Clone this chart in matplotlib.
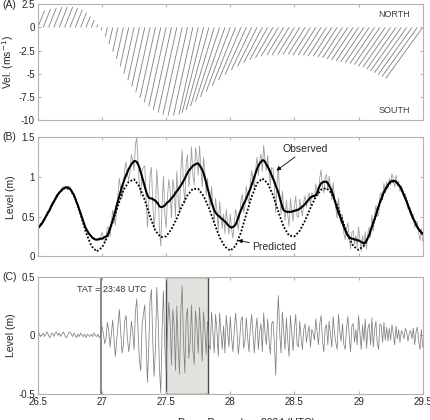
import numpy as np
import matplotlib
matplotlib.use('Agg')
import matplotlib.pyplot as plt
from matplotlib.ticker import FormatStrFormatter

plt.rcParams['font.family'] = ['Liberation Sans', 'DejaVu Sans']
plt.rcParams['axes.unicode_minus'] = False

# ---- data ----
# hourly times, days of December 2004 (UTC)
t_hour = 26.5 + np.arange(73) / 24.0
# 15-minute times for the high-frequency records
t_15 = 26.5 + np.arange(289) / 96.0

# (A) current components (m/s), feather sticks
vel_north = [1.8, 2.0, 2.1, 2.2, 2.2, 2.2, 2.1, 1.9, 1.6, 1.2, 0.8, 0.3,
             -0.3, -1.0, -1.8, -2.6, -3.4, -4.2, -5.0, -5.7, -6.4, -7.0, -7.6, -8.1,
             -8.5, -8.9, -9.2, -9.4, -9.5, -9.5, -9.4, -9.2, -8.9, -8.5, -8.0, -7.5,
             -6.9, -6.3, -5.7, -5.1, -4.6, -4.2, -3.8, -3.5, -3.3, -3.1, -3.0, -3.0,
             -2.9, -2.9, -2.9, -3.0, -3.0, -3.0, -3.1, -3.1, -3.2, -3.3, -3.4, -3.5,
             -3.6, -3.7, -3.8, -3.9, -4.0, -4.2, -4.3, -4.5, -4.7, -4.9, -5.1, -5.3, -5.5]
vel_east = [0.72, 0.80, 0.84, 0.88, 0.88, 0.88, 0.84, 0.76, 0.64, 0.48, 0.32, 0.12,
            -0.07, -0.22, -0.40, -0.57, -0.75, -0.92, -1.10, -1.25, -1.41, -1.54, -1.67, -1.78,
            -1.87, -1.96, -2.02, -2.07, -2.09, -2.09, -2.07, -2.30, -2.45, -2.55, -2.60, -2.63,
            -2.59, -2.52, -2.42, -2.30, -2.19, -2.10, -2.00, -1.93, -1.90, -1.86, -1.82, -1.83,
            -1.78, -1.79, -1.81, -1.88, -1.90, -1.91, -1.99, -2.00, -2.08, -2.16, -2.24, -2.32,
            -2.41, -2.49, -2.58, -2.66, -2.75, -2.91, -2.99, -3.15, -3.32, -3.48, -3.65, -3.81, -3.98]

# (B) predicted tide, hourly (m)
predicted = [0.36, 0.44, 0.56, 0.69, 0.80, 0.86, 0.85, 0.73, 0.53, 0.30,
             0.13, 0.06, 0.11, 0.24, 0.43, 0.64, 0.83, 0.94, 0.97, 0.88,
             0.71, 0.50, 0.32, 0.24, 0.25, 0.34, 0.48, 0.64, 0.77, 0.85,
             0.85, 0.76, 0.61, 0.42, 0.24, 0.12, 0.07, 0.13, 0.30, 0.53,
             0.75, 0.92, 0.98, 0.92, 0.77, 0.56, 0.37, 0.26, 0.25, 0.32,
             0.45, 0.61, 0.75, 0.84, 0.86, 0.79, 0.64, 0.45, 0.26, 0.13,
             0.08, 0.13, 0.27, 0.46, 0.67, 0.84, 0.94, 0.94, 0.85, 0.69,
             0.51, 0.36, 0.27]

# (B) observed level, low-passed, 15 min (m)
observed_smooth = [
    0.35, 0.37, 0.39, 0.41, 0.44, 0.47, 0.50, 0.53, 0.56, 0.59, 0.63, 0.66,
    0.69, 0.72, 0.75, 0.78, 0.80, 0.82, 0.84, 0.85, 0.86, 0.87, 0.87, 0.86,
    0.85, 0.83, 0.80, 0.77, 0.73, 0.68, 0.64, 0.59, 0.54, 0.49, 0.44, 0.39,
    0.35, 0.32, 0.29, 0.27, 0.25, 0.23, 0.22, 0.21, 0.21, 0.21, 0.22, 0.22,
    0.22, 0.23, 0.24, 0.25, 0.26, 0.30, 0.35, 0.40, 0.45, 0.51, 0.57, 0.64,
    0.70, 0.76, 0.82, 0.88, 0.93, 0.98, 1.02, 1.06, 1.10, 1.13, 1.16, 1.18,
    1.20, 1.20, 1.19, 1.16, 1.12, 1.06, 1.00, 0.94, 0.88, 0.82, 0.77, 0.74,
    0.73, 0.73, 0.72, 0.71, 0.70, 0.68, 0.66, 0.63, 0.62, 0.62, 0.63, 0.64,
    0.66, 0.68, 0.69, 0.71, 0.73, 0.75, 0.77, 0.80, 0.82, 0.84, 0.87, 0.89,
    0.92, 0.95, 0.98, 1.02, 1.05, 1.08, 1.10, 1.12, 1.14, 1.15, 1.16, 1.17,
    1.17, 1.15, 1.12, 1.09, 1.05, 0.99, 0.93, 0.86, 0.80, 0.74, 0.68, 0.63,
    0.58, 0.55, 0.53, 0.51, 0.50, 0.48, 0.47, 0.45, 0.44, 0.42, 0.40, 0.38,
    0.37, 0.36, 0.37, 0.38, 0.40, 0.44, 0.49, 0.54, 0.58, 0.62, 0.66, 0.69,
    0.73, 0.77, 0.81, 0.85, 0.90, 0.95, 1.00, 1.05, 1.10, 1.14, 1.17, 1.19,
    1.21, 1.21, 1.19, 1.16, 1.13, 1.10, 1.06, 1.02, 0.98, 0.94, 0.89, 0.85,
    0.80, 0.74, 0.68, 0.62, 0.58, 0.57, 0.56, 0.56, 0.56, 0.56, 0.56, 0.57,
    0.57, 0.58, 0.58, 0.59, 0.60, 0.61, 0.63, 0.64, 0.66, 0.68, 0.70, 0.72,
    0.74, 0.75, 0.76, 0.76, 0.77, 0.80, 0.85, 0.89, 0.92, 0.93, 0.94, 0.94,
    0.94, 0.92, 0.89, 0.86, 0.82, 0.77, 0.71, 0.66, 0.60, 0.55, 0.51, 0.46,
    0.42, 0.37, 0.33, 0.29, 0.26, 0.24, 0.23, 0.22, 0.22, 0.21, 0.21, 0.20,
    0.20, 0.19, 0.18, 0.17, 0.16, 0.17, 0.20, 0.23, 0.27, 0.32, 0.37, 0.42,
    0.47, 0.52, 0.58, 0.63, 0.68, 0.72, 0.77, 0.81, 0.84, 0.87, 0.90, 0.92,
    0.94, 0.95, 0.95, 0.95, 0.94, 0.92, 0.90, 0.88, 0.85, 0.81, 0.77, 0.73,
    0.69, 0.64, 0.60, 0.55, 0.51, 0.47, 0.44, 0.40, 0.37, 0.34, 0.32, 0.30,
    0.29]

# (C) high-frequency residual, 15 min (m)
residual = [
    0.01, 0.02, -0.01, 0.00, 0.02, -0.01, 0.01, 0.03, 0.00, -0.02, 0.01, 0.02,
    -0.01, 0.02, 0.03, 0.00, 0.02, -0.01, 0.01, 0.03, 0.01, -0.02, -0.01, 0.02,
    0.03, 0.01, -0.01, 0.02, 0.00, -0.02, 0.01, -0.01, 0.02, 0.00, -0.01, 0.01,
    -0.02, 0.01, 0.00, -0.01, 0.01, -0.01, 0.02, 0.00, -0.01, 0.01, -0.02, 0.00,
    0.08, 0.02, -0.07, -0.03, 0.11, 0.05, -0.10, 0.01, 0.13, -0.02, -0.18, -0.05,
    0.09, 0.22, 0.04, -0.15, -0.08, 0.12, 0.17, -0.02, -0.14, -0.05, 0.12, 0.03,
    -0.12, 0.20, 0.31, 0.05, -0.22, -0.30, 0.08, 0.18, 0.26, -0.05, -0.40, -0.10,
    0.30, 0.39, -0.05, -0.35, -0.12, 0.41, 0.15, -0.28, -0.49, 0.05, 0.38, -0.10,
    -0.30, 0.05, 0.28, 0.12, -0.25, 0.22, 0.08, -0.30, 0.25, -0.10, -0.33, 0.20,
    0.42, -0.05, -0.32, 0.15, 0.23, -0.20, -0.05, 0.26, -0.12, -0.25, 0.21, 0.08,
    -0.15, 0.24, 0.02, -0.22, 0.20, 0.05, -0.16, 0.12, -0.08, -0.12, 0.20, 0.02,
    -0.15, 0.18, 0.05, -0.18, 0.19, 0.04, -0.12, 0.08, -0.15, 0.17, 0.03, -0.10,
    0.16, -0.02, -0.14, 0.04, 0.19, 0.05, -0.16, -0.04, 0.13, 0.16, -0.11, -0.05,
    0.15, -0.02, -0.14, 0.06, 0.18, 0.02, -0.15, 0.04, 0.15, -0.12, 0.03, 0.10,
    -0.14, 0.19, 0.02, -0.08, 0.14, -0.04, -0.16, 0.10, 0.12, -0.06, -0.34, 0.08,
    0.34, 0.02, -0.15, 0.20, 0.03, -0.12, 0.15, -0.04, -0.18, 0.17, 0.02, -0.13,
    0.06, 0.18, -0.08, -0.10, 0.12, -0.02, -0.12, 0.05, 0.10, -0.06, 0.02, 0.08,
    -0.10, 0.05, 0.02, -0.04, 0.14, 0.03, -0.08, 0.10, 0.17, -0.05, -0.14, 0.06,
    0.09, -0.08, 0.12, 0.01, -0.10, 0.16, 0.02, -0.06, -0.12, 0.18, 0.03, -0.05,
    0.10, -0.08, -0.12, 0.06, 0.16, 0.00, -0.14, 0.08, 0.10, -0.06, 0.05, -0.08,
    0.17, 0.03, -0.12, 0.09, -0.05, 0.14, -0.11, 0.06, 0.10, -0.08, 0.15, -0.10,
    0.04, 0.12, -0.07, -0.12, 0.10, 0.08, -0.06, 0.11, -0.04, 0.07, -0.05, 0.06,
    -0.04, 0.09, 0.02, -0.08, 0.08, -0.03, 0.05, -0.06, 0.04, 0.02, -0.03, 0.06,
    0.03, -0.05, 0.02, 0.04, -0.03, 0.06, -0.08, 0.03, 0.07, -0.05, -0.12, 0.05,
    -0.10]

observed_raw = np.array(observed_smooth) + np.array(residual)

# ---- figure ----
fig = plt.figure(figsize=(4.3, 4.2), dpi=100)
L, W = 0.088, 0.895
axA = fig.add_axes([L, 0.714, W, 0.276])
axB = fig.add_axes([L, 0.390, W, 0.283])
axC = fig.add_axes([L, 0.062, W, 0.279])

frame = '0.7'
for ax in (axA, axB, axC):
    ax.set_xlim(26.5, 29.5)
    ax.set_xticks(np.arange(26.5, 29.51, 0.5))
    ax.tick_params(direction='in', top=True, right=True, length=2.5,
                   color=frame, labelsize=7, labelcolor='0.15', pad=2)
    for s in ax.spines.values():
        s.set_color(frame)
        s.set_linewidth(0.8)
    ax.yaxis.set_major_formatter(FormatStrFormatter('%g'))
    ax.xaxis.set_major_formatter(FormatStrFormatter('%g'))
    ax.yaxis.set_label_coords(-0.058, 0.5)
axA.tick_params(labelbottom=False)
axB.tick_params(labelbottom=False)

# (A) feather plot
axA.quiver(t_hour, np.zeros(len(t_hour)), vel_east, vel_north,
           angles='uv', scale_units='y', scale=1, pivot='tail',
           headwidth=0, headlength=0, headaxislength=0,
           width=0.0022, color='0.5')
axA.set_ylim(-10, 2.5)
axA.set_yticks([2.5, 0, -2.5, -5, -7.5, -10])
axA.set_ylabel('Vel. (ms$^{-1}$)', fontsize=7.5, color='0.15')
axA.text(0.927, 0.914, 'NORTH', transform=axA.transAxes, ha='center', va='center',
         fontsize=6.5, color='0.25')
axA.text(0.927, 0.086, 'SOUTH', transform=axA.transAxes, ha='center', va='center',
         fontsize=6.5, color='0.25')

# (B) sea level
axB.plot(t_15, observed_raw, color='0.62', lw=0.6)
axB.plot(t_15, observed_smooth, color='k', lw=1.5)
axB.plot(t_hour, predicted, color='k', lw=1.3, linestyle=(0, (1, 1)))
axB.set_ylim(0, 1.5)
axB.set_yticks([0, 0.5, 1, 1.5])
axB.set_ylabel('Level (m)', fontsize=7.5, color='0.15')
axB.annotate('Observed', xy=(28.36, 1.08), xytext=(28.41, 1.35),
             ha='left', va='center', fontsize=7.5, color='0.15',
             arrowprops=dict(arrowstyle='-|>', color='k', lw=0.6, mutation_scale=6,
                             shrinkA=0, shrinkB=0))
axB.annotate('Predicted', xy=(28.06, 0.20), xytext=(28.17, 0.11),
             ha='left', va='center', fontsize=7.5, color='0.15',
             arrowprops=dict(arrowstyle='-|>', color='k', lw=0.6, mutation_scale=6,
                             shrinkA=0, shrinkB=0))

# (C) residual
axC.axvspan(27.5, 27.83, facecolor='#e2e2de', edgecolor='0.3', lw=1.0, zorder=0)
axC.axvline(26.99, color='0.45', lw=1.2, zorder=1)
axC.plot(t_15, residual, color='0.5', lw=0.55, zorder=2)
axC.set_ylim(-0.5, 0.5)
axC.set_yticks([0.5, 0, -0.5])
axC.set_ylabel('Level (m)', fontsize=7.5, color='0.15')
axC.text(27.08, 0.39, 'TAT = 23:48 UTC', ha='center', va='center', fontsize=6.5,
         color='0.2')

# panel tags and x label
fig.text(0.005, 0.987, '(A)', fontsize=7.5, color='0.15', va='center')
fig.text(0.005, 0.674, '(B)', fontsize=7.5, color='0.15', va='center')
fig.text(0.005, 0.34, '(C)', fontsize=7.5, color='0.15', va='center')
fig.text(0.574, -0.006, 'Days, December, 2004 (UTC)', ha='center', va='center',
         fontsize=7.5, color='0.15')

fig.savefig('out.png', dpi=100)
